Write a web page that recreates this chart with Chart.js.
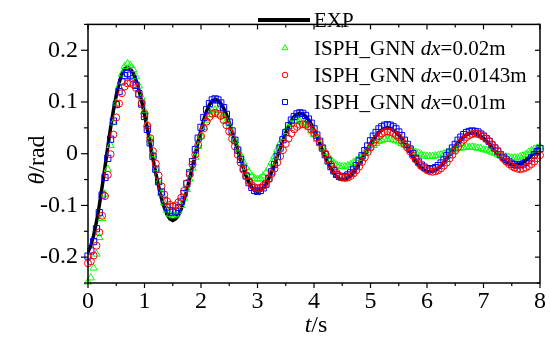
<!DOCTYPE html>
<html>
<head>
<meta charset="utf-8">
<script src="https://cdn.jsdelivr.net/npm/chart.js@4.4.1/dist/chart.umd.min.js"></script>
<style>
  html, body { margin: 0; padding: 0; background: #fff; }
  .probe { position: absolute; left: -999px; top: 0; font-family: 'Liberation Serif'; font-size: 24px; }
</style>
</head>
<body>
<span class="probe">0.1 <i>t</i></span>
<canvas id="pendulumChart" width="551" height="338"></canvas>
<script>
// time axis, s
const time = [
  0, 0.05, 0.1, 0.15, 0.2, 0.25, 0.3, 0.35, 0.4, 0.45,
  0.5, 0.55, 0.6, 0.65, 0.7, 0.75, 0.8, 0.85, 0.9, 0.95,
  1, 1.05, 1.1, 1.15, 1.2, 1.25, 1.3, 1.35, 1.4, 1.45,
  1.5, 1.55, 1.6, 1.65, 1.7, 1.75, 1.8, 1.85, 1.9, 1.95,
  2, 2.05, 2.1, 2.15, 2.2, 2.25, 2.3, 2.35, 2.4, 2.45,
  2.5, 2.55, 2.6, 2.65, 2.7, 2.75, 2.8, 2.85, 2.9, 2.95,
  3, 3.05, 3.1, 3.15, 3.2, 3.25, 3.3, 3.35, 3.4, 3.45,
  3.5, 3.55, 3.6, 3.65, 3.7, 3.75, 3.8, 3.85, 3.9, 3.95,
  4, 4.05, 4.1, 4.15, 4.2, 4.25, 4.3, 4.35, 4.4, 4.45,
  4.5, 4.55, 4.6, 4.65, 4.7, 4.75, 4.8, 4.85, 4.9, 4.95,
  5, 5.05, 5.1, 5.15, 5.2, 5.25, 5.3, 5.35, 5.4, 5.45,
  5.5, 5.55, 5.6, 5.65, 5.7, 5.75, 5.8, 5.85, 5.9, 5.95,
  6, 6.05, 6.1, 6.15, 6.2, 6.25, 6.3, 6.35, 6.4, 6.45,
  6.5, 6.55, 6.6, 6.65, 6.7, 6.75, 6.8, 6.85, 6.9, 6.95,
  7, 7.05, 7.1, 7.15, 7.2, 7.25, 7.3, 7.35, 7.4, 7.45,
  7.5, 7.55, 7.6, 7.65, 7.7, 7.75, 7.8, 7.85, 7.9, 7.95,
  8
];

// EXP
const expTheta = [
  -0.190, -0.178, -0.158, -0.132, -0.100, -0.064, -0.026, 0.013, 0.050, 0.084,
  0.113, 0.137, 0.154, 0.164, 0.167, 0.164, 0.156, 0.142, 0.124, 0.101,
  0.076, 0.048, 0.019, -0.010, -0.038, -0.063, -0.086, -0.104, -0.118, -0.126,
  -0.129, -0.126, -0.119, -0.107, -0.090, -0.070, -0.048, -0.024, 0.000, 0.024,
  0.046, 0.066, 0.083, 0.095, 0.102, 0.105, 0.103, 0.097, 0.088, 0.076,
  0.060, 0.043, 0.025, 0.007, -0.011, -0.028, -0.044, -0.056, -0.065, -0.071,
  -0.073, -0.071, -0.066, -0.059, -0.048, -0.035, -0.021, -0.005, 0.010, 0.026,
  0.040, 0.053, 0.064, 0.072, 0.076, 0.078, 0.077, 0.072, 0.066, 0.057,
  0.046, 0.034, 0.021, 0.007, -0.006, -0.018, -0.029, -0.038, -0.044, -0.049,
  -0.050, -0.049, -0.046, -0.042, -0.035, -0.028, -0.019, -0.010, 0.000, 0.010,
  0.019, 0.028, 0.035, 0.042, 0.046, 0.049, 0.050, 0.049, 0.046, 0.042,
  0.036, 0.029, 0.021, 0.012, 0.003, -0.006, -0.014, -0.021, -0.027, -0.031,
  -0.034, -0.035, -0.034, -0.032, -0.028, -0.023, -0.016, -0.009, -0.001, 0.006,
  0.014, 0.021, 0.028, 0.033, 0.037, 0.039, 0.040, 0.039, 0.037, 0.034,
  0.030, 0.025, 0.019, 0.012, 0.006, -0.001, -0.007, -0.012, -0.016, -0.019,
  -0.021, -0.022, -0.021, -0.020, -0.017, -0.013, -0.009, -0.003, 0.002, 0.008,
  0.013
];

// ISPH_GNN dx=0.02m
const gnn002 = [
  -0.248, -0.240, -0.221, -0.194, -0.162, -0.125, -0.078, -0.030, 0.016, 0.060,
  0.098, 0.130, 0.154, 0.169, 0.174, 0.171, 0.163, 0.149, 0.131, 0.109,
  0.083, 0.056, 0.027, -0.002, -0.029, -0.055, -0.077, -0.095, -0.109, -0.117,
  -0.120, -0.118, -0.111, -0.100, -0.086, -0.069, -0.049, -0.028, -0.007, 0.014,
  0.034, 0.051, 0.065, 0.076, 0.083, 0.085, 0.084, 0.079, 0.072, 0.063,
  0.052, 0.039, 0.025, 0.011, -0.003, -0.016, -0.027, -0.036, -0.043, -0.048,
  -0.049, -0.048, -0.043, -0.037, -0.028, -0.017, -0.005, 0.008, 0.020, 0.032,
  0.043, 0.052, 0.058, 0.063, 0.064, 0.063, 0.061, 0.057, 0.051, 0.044,
  0.037, 0.028, 0.020, 0.011, 0.003, -0.005, -0.012, -0.018, -0.022, -0.024,
  -0.025, -0.025, -0.023, -0.021, -0.017, -0.013, -0.009, -0.004, 0.002, 0.007,
  0.012, 0.016, 0.020, 0.024, 0.026, 0.028, 0.028, 0.028, 0.027, 0.025,
  0.023, 0.020, 0.017, 0.013, 0.010, 0.006, 0.003, 0.001, -0.002, -0.004,
  -0.005, -0.005, -0.005, -0.004, -0.003, -0.002, 0.000, 0.002, 0.004, 0.006,
  0.008, 0.010, 0.011, 0.012, 0.013, 0.013, 0.013, 0.012, 0.011, 0.010,
  0.008, 0.007, 0.005, 0.003, 0.001, -0.002, -0.003, -0.005, -0.006, -0.007,
  -0.008, -0.008, -0.008, -0.006, -0.004, -0.001, 0.003, 0.006, 0.009, 0.011,
  0.013
];

// ISPH_GNN dx=0.0143m
const gnn00143 = [
  -0.212, -0.208, -0.197, -0.178, -0.152, -0.120, -0.082, -0.041, -0.001, 0.037,
  0.070, 0.097, 0.117, 0.130, 0.136, 0.137, 0.134, 0.127, 0.114, 0.098,
  0.077, 0.054, 0.030, 0.005, -0.019, -0.042, -0.063, -0.079, -0.092, -0.099,
  -0.102, -0.100, -0.094, -0.085, -0.072, -0.057, -0.040, -0.021, -0.002, 0.017,
  0.034, 0.049, 0.062, 0.071, 0.077, 0.079, 0.077, 0.073, 0.065, 0.055,
  0.043, 0.029, 0.014, -0.002, -0.017, -0.031, -0.043, -0.053, -0.061, -0.065,
  -0.067, -0.066, -0.062, -0.057, -0.049, -0.039, -0.029, -0.017, -0.005, 0.007,
  0.019, 0.029, 0.039, 0.047, 0.052, 0.056, 0.057, 0.056, 0.053, 0.047,
  0.040, 0.031, 0.021, 0.010, 0.000, -0.011, -0.021, -0.030, -0.037, -0.043,
  -0.046, -0.047, -0.046, -0.043, -0.038, -0.032, -0.025, -0.016, -0.007, 0.003,
  0.012, 0.021, 0.028, 0.034, 0.039, 0.042, 0.043, 0.042, 0.040, 0.036,
  0.032, 0.026, 0.019, 0.012, 0.004, -0.004, -0.011, -0.018, -0.024, -0.028,
  -0.032, -0.034, -0.035, -0.034, -0.032, -0.028, -0.023, -0.017, -0.009, -0.002,
  0.006, 0.013, 0.021, 0.027, 0.032, 0.036, 0.038, 0.039, 0.038, 0.036,
  0.033, 0.029, 0.024, 0.018, 0.011, 0.005, -0.002, -0.009, -0.015, -0.020,
  -0.024, -0.027, -0.029, -0.030, -0.029, -0.027, -0.024, -0.020, -0.015, -0.009,
  -0.003
];

// ISPH_GNN dx=0.01m
const gnn001 = [
  -0.198, -0.188, -0.170, -0.145, -0.114, -0.080, -0.046, -0.009, 0.028, 0.063,
  0.095, 0.120, 0.139, 0.151, 0.155, 0.152, 0.145, 0.132, 0.116, 0.096,
  0.072, 0.047, 0.021, -0.005, -0.030, -0.054, -0.074, -0.090, -0.103, -0.110,
  -0.113, -0.111, -0.104, -0.092, -0.077, -0.058, -0.037, -0.015, 0.008, 0.030,
  0.051, 0.070, 0.085, 0.097, 0.104, 0.106, 0.104, 0.098, 0.089, 0.076,
  0.061, 0.044, 0.026, 0.007, -0.011, -0.028, -0.043, -0.056, -0.065, -0.071,
  -0.073, -0.071, -0.066, -0.059, -0.048, -0.035, -0.021, -0.005, 0.011, 0.027,
  0.041, 0.054, 0.065, 0.072, 0.077, 0.079, 0.078, 0.074, 0.067, 0.059,
  0.048, 0.036, 0.024, 0.011, -0.002, -0.014, -0.025, -0.033, -0.040, -0.044,
  -0.045, -0.044, -0.041, -0.037, -0.030, -0.023, -0.014, -0.004, 0.006, 0.015,
  0.025, 0.034, 0.041, 0.048, 0.052, 0.055, 0.056, 0.055, 0.052, 0.048,
  0.042, 0.035, 0.026, 0.018, 0.009, 0.000, -0.009, -0.016, -0.022, -0.026,
  -0.029, -0.030, -0.029, -0.027, -0.023, -0.018, -0.012, -0.004, 0.003, 0.011,
  0.018, 0.026, 0.032, 0.037, 0.041, 0.043, 0.044, 0.043, 0.042, 0.038,
  0.034, 0.029, 0.024, 0.017, 0.011, 0.005, -0.002, -0.007, -0.012, -0.016,
  -0.020, -0.021, -0.022, -0.021, -0.020, -0.017, -0.013, -0.008, -0.002, 0.004,
  0.010
];

const xTicks = [0, 1, 2, 3, 4, 5, 6, 7, 8];
const yTicks = [-0.2, -0.1, 0, 0.1, 0.2];

const serif = "'Liberation Serif'";

function pts(ys) {
  return ys.map((y, i) => ({ x: time[i], y: y }));
}

const series = [
  { label: 'EXP', data: expTheta },
  { label: 'dx=0.02m', data: gnn002, style: 'triangle', color: '#00ff00', radius: 4.2 },
  { label: 'dx=0.0143m', data: gnn00143, style: 'circle', color: '#ff0000', radius: 3.5 },
  { label: 'dx=0.01m', data: gnn001, style: 'rect', color: '#0000ff', radius: 4.4 }
];

// frame, ticks, axis titles, legend
const decorations = {
  id: 'decorations',
  afterDraw(chart) {
    const { ctx, chartArea: a, scales: { x, y } } = chart;
    ctx.save();
    ctx.strokeStyle = '#000';

    const line = (x1, y1, x2, y2) => {
      ctx.beginPath(); ctx.moveTo(x1, y1); ctx.lineTo(x2, y2); ctx.stroke();
    };
    // ticks
    ctx.lineWidth = 1.2;
    xTicks.forEach((v, i) => {
      const px = x.getPixelForValue(v);
      line(px, a.bottom, px, a.bottom + 5);
      line(px, a.top, px, a.top + 5);
      if (i < xTicks.length - 1) {
        const mx = x.getPixelForValue((v + xTicks[i + 1]) / 2);
        line(mx, a.bottom, mx, a.bottom + 3);
        line(mx, a.top, mx, a.top + 3);
      }
    });
    const yMinor = [-0.25, -0.15, -0.05, 0.05, 0.15, 0.25];
    yTicks.forEach(v => {
      const py = y.getPixelForValue(v);
      line(a.left - 7, py, a.left, py);
      line(a.right - 5, py, a.right, py);
    });
    yMinor.forEach(v => {
      const py = y.getPixelForValue(v);
      line(a.left - 4, py, a.left, py);
      line(a.right - 3, py, a.right, py);
    });

    // frame
    ctx.lineWidth = 1.5;
    ctx.strokeRect(a.left, a.top, a.right - a.left, a.bottom - a.top);

    // axis titles
    ctx.fillStyle = '#000';
    ctx.textBaseline = 'middle';
    ctx.textAlign = 'left';
    const mixed = (parts, cx, cy, size) => {
      let w = 0;
      parts.forEach(p => { ctx.font = p[1] + ' ' + size + 'px ' + serif; w += ctx.measureText(p[0]).width; });
      let cur = cx - w / 2;
      parts.forEach(p => {
        ctx.font = p[1] + ' ' + size + 'px ' + serif;
        ctx.fillText(p[0], cur, cy);
        cur += ctx.measureText(p[0]).width;
      });
    };
    mixed([['t', 'italic'], ['/s', 'normal']], 316, 326, 24);
    ctx.save();
    ctx.translate(38, 160);
    ctx.rotate(-Math.PI / 2);
    mixed([['\u03b8', 'italic'], ['/rad', 'normal']], 0, 0, 24);
    ctx.restore();

    // legend
    ctx.lineWidth = 4;
    line(258, 20, 310, 20);
    ctx.font = 'normal 21px ' + serif;
    ctx.fillText('EXP', 314, 21);
    const rows = [48, 75, 102];
    series.slice(1).forEach((s, i) => {
      const ry = rows[i];
      ctx.strokeStyle = s.color;
      ctx.fillStyle = 'rgba(0,0,0,0)';
      ctx.lineWidth = 1;
      Chart.helpers.drawPoint(ctx, { pointStyle: s.style, radius: s.radius * 0.8, rotation: 0, borderWidth: 1 }, 285, ry);
      ctx.fillStyle = '#000';
      let cur = 314;
      const parts = [['ISPH_GNN ', 'normal'], ['dx', 'italic'], [s.label.slice(2), 'normal']];
      parts.forEach(p => {
        ctx.font = p[1] + ' 21px ' + serif;
        ctx.fillText(p[0], cur, ry + 1);
        cur += ctx.measureText(p[0]).width;
      });
    });
    ctx.restore();
  }
};

function markerSet(s, order) {
  return {
    label: s.label,
    data: pts(s.data),
    showLine: false,
    pointStyle: s.style,
    pointRadius: s.radius,
    pointBorderWidth: 1,
    pointBorderColor: s.color,
    pointBackgroundColor: 'rgba(0,0,0,0)',
    order: order,
    clip: false
  };
}

function draw() {
  new Chart(document.getElementById('pendulumChart'), {
    type: 'scatter',
    data: {
      datasets: [
        markerSet(series[2], 0),
        markerSet(series[3], 1),
        markerSet(series[1], 2),
        {
          label: series[0].label,
          data: pts(series[0].data),
          showLine: true,
          borderColor: '#000',
          borderWidth: 3.5,
          pointRadius: 0,
          tension: 0,
          order: 3
        }
      ]
    },
    options: {
      responsive: false,
      animation: false,
      devicePixelRatio: 1,
      layout: { padding: { top: 8, right: 11, left: 0, bottom: 0 } },
      plugins: { legend: { display: false }, tooltip: { enabled: false } },
      scales: {
        x: {
          type: 'linear',
          min: 0,
          max: 8,
          afterFit: s => { s.height = 55; },
          afterBuildTicks: s => { s.ticks = xTicks.map(v => ({ value: v })); },
          grid: { display: false, drawTicks: false },
          border: { display: false },
          ticks: {
            padding: 4,
            color: '#000',
            font: { family: serif, size: 24 },
            callback: v => String(v)
          }
        },
        y: {
          type: 'linear',
          min: -0.25,
          max: 0.25,
          afterFit: s => { s.width = 88; },
          afterBuildTicks: s => { s.ticks = yTicks.map(v => ({ value: v })); },
          grid: { display: false, drawTicks: false },
          border: { display: false },
          ticks: {
            padding: 10,
            color: '#000',
            font: { family: serif, size: 24 },
            callback: v => (v === 0 ? '0' : v.toFixed(1))
          }
        }
      }
    },
    plugins: [decorations]
  });
}

Promise.all([
  document.fonts.load("24px 'Liberation Serif'"),
  document.fonts.load("italic 24px 'Liberation Serif'")
]).then(draw, draw);
</script>
</body>
</html>
